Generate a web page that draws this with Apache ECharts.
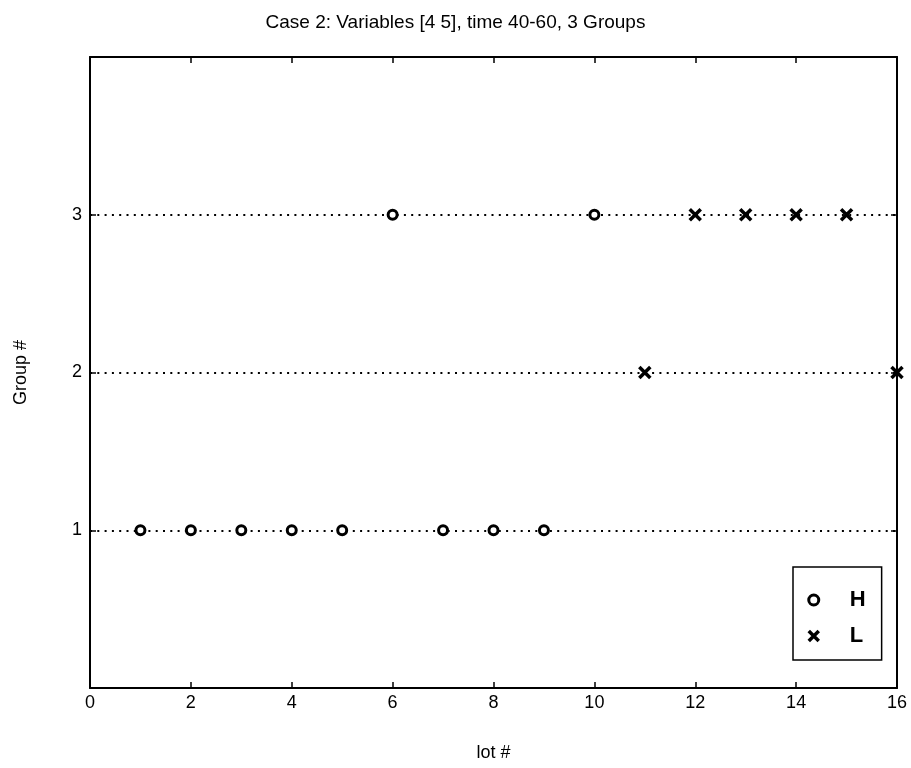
<!DOCTYPE html>
<html>
<head>
<meta charset="utf-8">
<script src="https://cdn.jsdelivr.net/npm/echarts@6/dist/echarts.min.js"></script>
<style>
  html, body { margin: 0; padding: 0; background: #fff; }
  #chart { width: 911px; height: 768px; }
</style>
</head>
<body>
<div id="chart"></div>
<script>
// Lot numbers and group assignments for each class
const hLots = [1, 2, 3, 4, 5, 6, 7, 8, 9, 10];
const hGroups = [1, 1, 1, 1, 1, 3, 1, 1, 1, 3];
const lLots = [11, 12, 13, 14, 15, 16];
const lGroups = [2, 3, 3, 3, 3, 2];
const groupTicks = [1, 2, 3];

const FONT = 'Liberation Sans, Arial, sans-serif';
const crossPath = 'path://M0,0L10,10M10,0L0,10';

const chart = echarts.init(document.getElementById('chart'));

const boxAxisX = (pos, showLabels) => ({
  type: 'value', position: pos, min: 0, max: 16, interval: 2,
  axisLine: { show: true, onZero: false, lineStyle: { color: '#000', width: 2 } },
  axisTick: { show: true, inside: true, length: 6, lineStyle: { color: '#000', width: 1.5 } },
  axisLabel: { show: showLabels, color: '#000', fontFamily: FONT, fontSize: 18, margin: 6 },
  splitLine: { show: false }
});
const boxAxisY = (pos, showLabels) => ({
  type: 'value', position: pos, min: 0, max: 4, interval: 1,
  axisLine: { show: true, onZero: false, lineStyle: { color: '#000', width: 2 } },
  axisTick: { show: true, inside: true, length: 6, customValues: groupTicks, lineStyle: { color: '#000', width: 1.5 } },
  axisLabel: { show: showLabels, customValues: groupTicks, color: '#000', fontFamily: FONT, fontSize: 18, margin: 8 },
  splitLine: { show: false }
});

const xBottom = boxAxisX('bottom', true);
xBottom.name = 'lot #';
xBottom.nameLocation = 'middle';
xBottom.nameGap = 56;
xBottom.nameTextStyle = { color: '#000', fontFamily: FONT, fontSize: 18 };
const yLeft = boxAxisY('left', true);
yLeft.name = 'Group #';
yLeft.nameLocation = 'middle';
yLeft.nameGap = 60;
yLeft.nameTextStyle = { color: '#000', fontFamily: FONT, fontSize: 18 };

const circleStyle = { color: '#fff', borderColor: '#000', borderWidth: 3, opacity: 1 };
const crossStyle = { color: 'transparent', borderColor: '#000', borderWidth: 3.5, opacity: 1 };

chart.setOption({
  animation: false,
  backgroundColor: '#fff',
  title: {
    text: 'Case 2: Variables [4 5], time 40-60, 3 Groups',
    left: 'center', top: 8,
    textStyle: { color: '#000', fontFamily: FONT, fontSize: 19, fontWeight: 'normal' }
  },
  grid: { left: 90, right: 14, top: 57, bottom: 80 },
  xAxis: [xBottom, boxAxisX('top', false)],
  yAxis: [yLeft, boxAxisY('right', false)],
  legend: {
    orient: 'vertical',
    left: 793, top: 567,
    padding: [22, 16, 13, 14],
    itemGap: 14,
    itemWidth: 10, itemHeight: 10,
    borderColor: '#000', borderWidth: 1.5,
    backgroundColor: '#fff',
    textStyle: { color: '#000', fontFamily: FONT, fontSize: 22, fontWeight: 'bold', padding: [0, 0, 0, 26] },
    data: [
      { name: 'H', itemStyle: circleStyle },
      { name: 'L', itemStyle: crossStyle }
    ]
  },
  series: [
    {
      name: 'H', type: 'scatter', clip: false, z: 5,
      symbol: 'circle', symbolSize: 9,
      itemStyle: circleStyle,
      data: hLots.map((x, i) => [x, hGroups[i]]),
      markLine: {
        silent: true, symbol: 'none', z: 2,
        label: { show: false },
        lineStyle: { color: '#000', type: [2, 5.3], width: 2, opacity: 1 },
        data: groupTicks.map(g => ({ yAxis: g }))
      }
    },
    {
      name: 'L', type: 'scatter', clip: false, z: 5,
      symbol: crossPath, symbolSize: 11,
      itemStyle: crossStyle,
      data: lLots.map((x, i) => [x, lGroups[i]])
    }
  ]
});
</script>
</body>
</html>
